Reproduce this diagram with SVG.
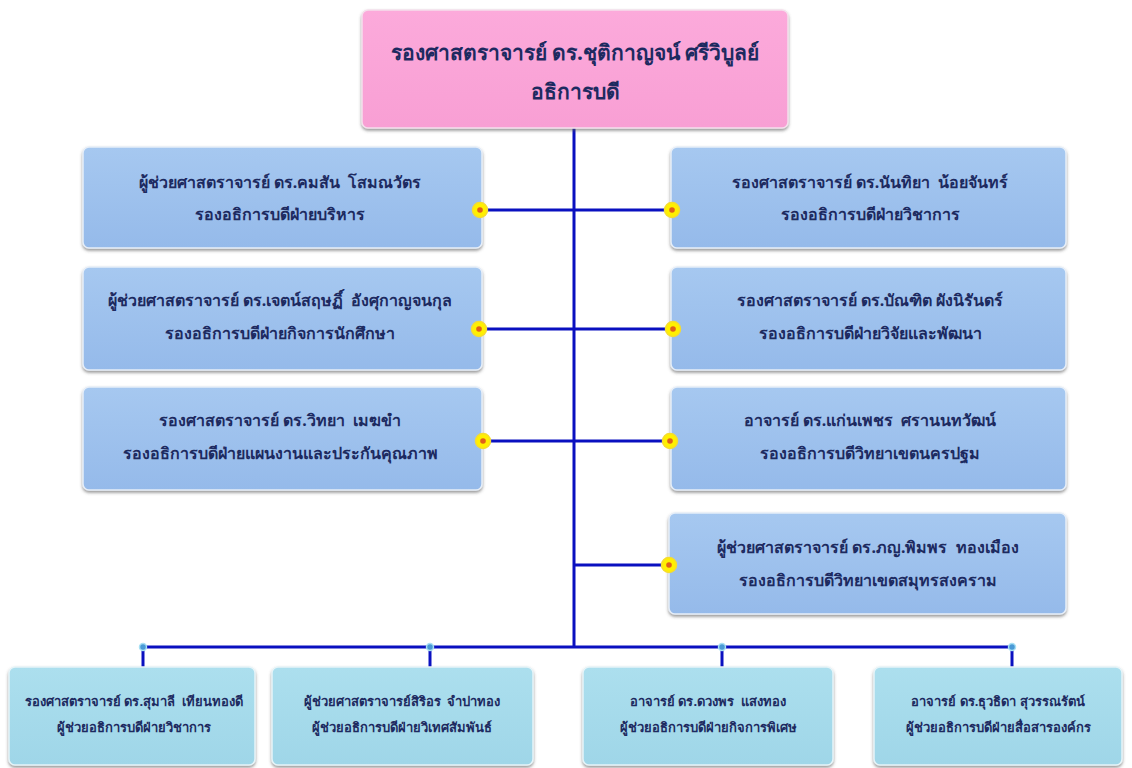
<svg xmlns="http://www.w3.org/2000/svg" width="1132" height="768" viewBox="0 0 1132 768" xml:space="preserve">
<defs>
<style>
text{font-family:"Noto Sans","DejaVu Sans","Liberation Sans",sans-serif;font-weight:bold;fill:#1d2a60;text-anchor:middle;dominant-baseline:central;white-space:pre}
.t1{font-size:21px}
.t2{font-size:16px}
.t3{font-size:13px}
.blue{fill:url(#gBlue);stroke:#e6eef8;stroke-width:1.5}
.cyan{fill:url(#gCyan);stroke:#e6f4f8;stroke-width:1.5}
.pink{fill:url(#gPink);stroke:#f4e0ec;stroke-width:1.5}
.ln{stroke:#0a10c0;stroke-width:3;fill:none}
.dy{fill:#fff000;stroke:#f5dc30;stroke-width:1.5}
.dr{fill:#e0601a}
.bd{fill:#4a9ad6;stroke:#a8e0f4;stroke-width:1.5}
</style>
<linearGradient id="gBlue" x1="0" y1="0" x2="0" y2="1"><stop offset="0" stop-color="#a6c8f0"/><stop offset="1" stop-color="#95baea"/></linearGradient>
<linearGradient id="gCyan" x1="0" y1="0" x2="0" y2="1"><stop offset="0" stop-color="#acdfee"/><stop offset="1" stop-color="#9fd6e8"/></linearGradient>
<linearGradient id="gPink" x1="0" y1="0" x2="0" y2="1"><stop offset="0" stop-color="#fcaadb"/><stop offset="1" stop-color="#f89fd4"/></linearGradient>
<filter id="sh" x="-5%" y="-10%" width="110%" height="125%"><feDropShadow dx="0" dy="2" stdDeviation="1.5" flood-color="#555" flood-opacity="0.6"/></filter>
</defs>
<rect width="1132" height="768" fill="#ffffff"/>
<g id="connectors">
<line class="ln" x1="574" y1="128" x2="574" y2="647"/>
<line class="ln" x1="480" y1="210" x2="672" y2="210"/>
<line class="ln" x1="480" y1="329" x2="672" y2="329"/>
<line class="ln" x1="483" y1="441" x2="670" y2="441"/>
<line class="ln" x1="574" y1="565" x2="669" y2="565"/>
<line class="ln" x1="143" y1="647" x2="1012" y2="647"/>
<line class="ln" x1="143" y1="647" x2="143" y2="667"/>
<line class="ln" x1="430" y1="647" x2="430" y2="667"/>
<line class="ln" x1="722" y1="647" x2="722" y2="667"/>
<line class="ln" x1="1012" y1="647" x2="1012" y2="667"/>
</g>
<g id="president">
<rect class="pink" x="362" y="10" width="426" height="118" rx="6" filter="url(#sh)"/>
<text class="t1" x="575" y="52">รองศาสตราจารย์ ดร.ชุติกาญจน์ ศรีวิบูลย์</text>
<text class="t1" x="575" y="91">อธิการบดี</text>
</g>
<g id="vp-admin">
<rect class="blue" x="83" y="147" width="399" height="101" rx="6" filter="url(#sh)"/>
<text class="t2" x="280" y="182">ผู้ช่วยศาสตราจารย์ ดร.คมสัน  โสมณวัตร</text>
<text class="t2" x="280" y="214">รองอธิการบดีฝ่ายบริหาร</text>
<circle class="dy" cx="480" cy="210" r="7.5"/><circle class="dr" cx="480" cy="210" r="2.8"/>
</g>
<g id="vp-academic">
<rect class="blue" x="671" y="147" width="395" height="101" rx="6" filter="url(#sh)"/>
<text class="t2" x="870" y="182">รองศาสตราจารย์ ดร.นันทิยา  น้อยจันทร์</text>
<text class="t2" x="870" y="214">รองอธิการบดีฝ่ายวิชาการ</text>
<circle class="dy" cx="672" cy="210" r="7.5"/><circle class="dr" cx="672" cy="210" r="2.8"/>
</g>
<g id="vp-student">
<rect class="blue" x="83" y="267" width="399" height="103" rx="6" filter="url(#sh)"/>
<text class="t2" x="280" y="300">ผู้ช่วยศาสตราจารย์ ดร.เจตน์สฤษฏิ์  อังศุกาญจนกุล</text>
<text class="t2" x="280" y="333">รองอธิการบดีฝ่ายกิจการนักศึกษา</text>
<circle class="dy" cx="479" cy="329" r="7.5"/><circle class="dr" cx="479" cy="329" r="2.8"/>
</g>
<g id="vp-research">
<rect class="blue" x="671" y="267" width="395" height="103" rx="6" filter="url(#sh)"/>
<text class="t2" x="870" y="300">รองศาสตราจารย์ ดร.บัณฑิต ผังนิรันดร์</text>
<text class="t2" x="870" y="333">รองอธิการบดีฝ่ายวิจัยและพัฒนา</text>
<circle class="dy" cx="673" cy="329" r="7.5"/><circle class="dr" cx="673" cy="329" r="2.8"/>
</g>
<g id="vp-planning">
<rect class="blue" x="83" y="387" width="399" height="103" rx="6" filter="url(#sh)"/>
<text class="t2" x="280" y="420">รองศาสตราจารย์ ดร.วิทยา  เมฆขำ</text>
<text class="t2" x="280" y="453">รองอธิการบดีฝ่ายแผนงานและประกันคุณภาพ</text>
<circle class="dy" cx="483" cy="441" r="7.5"/><circle class="dr" cx="483" cy="441" r="2.8"/>
</g>
<g id="vp-nakhonpathom">
<rect class="blue" x="671" y="387" width="395" height="103" rx="6" filter="url(#sh)"/>
<text class="t2" x="870" y="420">อาจารย์ ดร.แก่นเพชร  ศรานนทวัฒน์</text>
<text class="t2" x="870" y="453">รองอธิการบดีวิทยาเขตนครปฐม</text>
<circle class="dy" cx="670" cy="441" r="7.5"/><circle class="dr" cx="670" cy="441" r="2.8"/>
</g>
<g id="vp-samutsongkhram">
<rect class="blue" x="669" y="513" width="397" height="101" rx="6" filter="url(#sh)"/>
<text class="t2" x="868" y="547">ผู้ช่วยศาสตราจารย์ ดร.ภญ.พิมพร  ทองเมือง</text>
<text class="t2" x="868" y="580">รองอธิการบดีวิทยาเขตสมุทรสงคราม</text>
<circle class="dy" cx="669" cy="565" r="7.5"/><circle class="dr" cx="669" cy="565" r="2.8"/>
</g>
<g id="ap-academic">
<rect class="cyan" x="9" y="667" width="246" height="98" rx="6" filter="url(#sh)"/>
<text class="t3" x="134" y="701">รองศาสตราจารย์ ดร.สุมาลี  เทียนทองดี</text>
<text class="t3" x="134" y="727">ผู้ช่วยอธิการบดีฝ่ายวิชาการ</text>
<circle class="bd" cx="143" cy="647" r="3.5"/>
</g>
<g id="ap-intl">
<rect class="cyan" x="272" y="667" width="261" height="98" rx="6" filter="url(#sh)"/>
<text class="t3" x="402" y="701">ผู้ช่วยศาสตราจารย์สิริอร  จำปาทอง</text>
<text class="t3" x="402" y="727">ผู้ช่วยอธิการบดีฝ่ายวิเทศสัมพันธ์</text>
<circle class="bd" cx="430" cy="647" r="3.5"/>
</g>
<g id="ap-special">
<rect class="cyan" x="583" y="667" width="250" height="98" rx="6" filter="url(#sh)"/>
<text class="t3" x="708" y="701">อาจารย์ ดร.ดวงพร  แสงทอง</text>
<text class="t3" x="708" y="727">ผู้ช่วยอธิการบดีฝ่ายกิจการพิเศษ</text>
<circle class="bd" cx="722" cy="647" r="3.5"/>
</g>
<g id="ap-comm">
<rect class="cyan" x="874" y="667" width="248" height="98" rx="6" filter="url(#sh)"/>
<text class="t3" x="998" y="701">อาจารย์ ดร.ธุวธิดา สุวรรณรัตน์</text>
<text class="t3" x="998" y="727">ผู้ช่วยอธิการบดีฝ่ายสื่อสารองค์กร</text>
<circle class="bd" cx="1012" cy="647" r="3.5"/>
</g>
</svg>
